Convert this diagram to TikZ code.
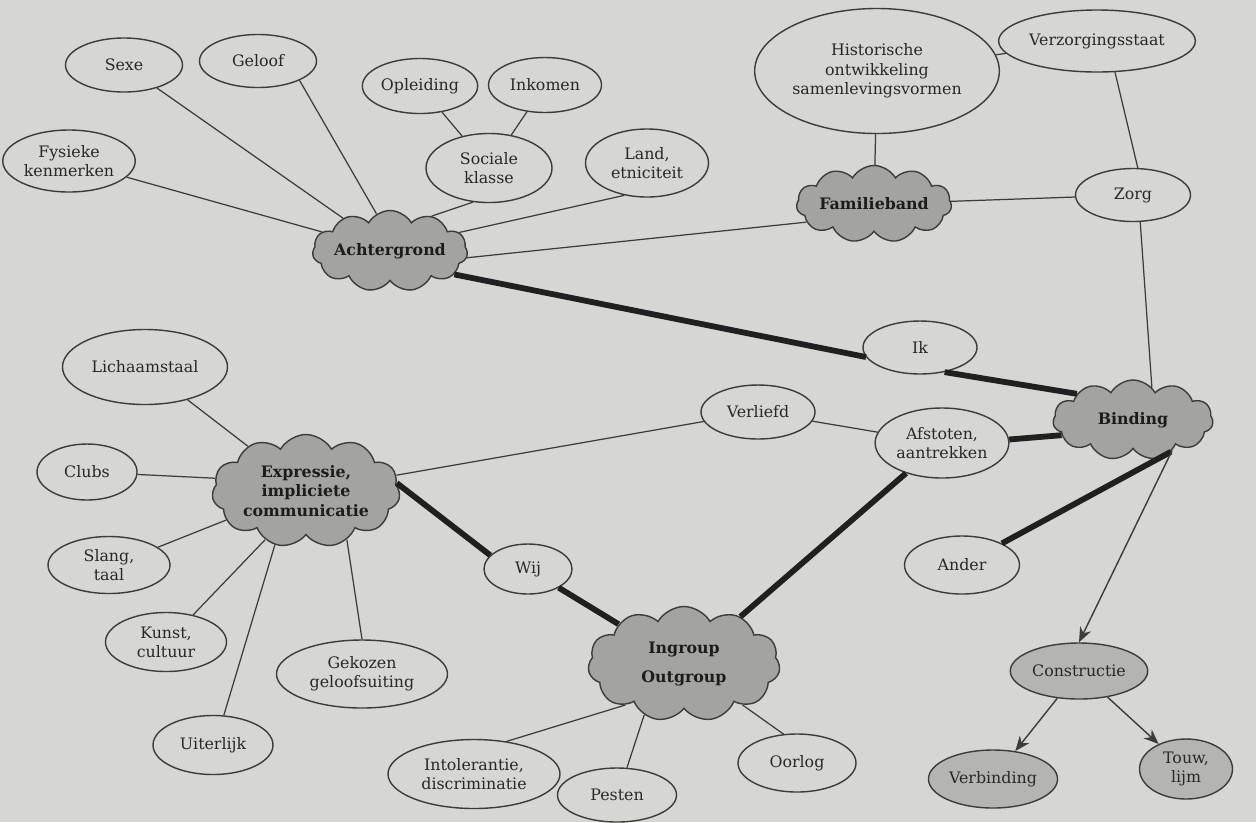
\documentclass[tikz,border=0pt]{standalone}
\usepackage{fontspec}
\setmainfont{DejaVu Serif}
\usetikzlibrary{arrows.meta,shapes.geometric,shapes.symbols}
\definecolor{paper}{RGB}{214,214,211}
\definecolor{puffgray}{RGB}{163,163,161}
\definecolor{ovalgray}{RGB}{180,180,177}
\definecolor{pencil}{RGB}{60,60,60}
\definecolor{print}{RGB}{40,40,40}
\tikzset{
  >={Stealth[length=3mm,width=2.4mm]},
  oval/.style={ellipse,draw=pencil,line width=0.8pt,fill=#1,inner sep=1pt,
    align=center,font=\small,text=print},
  oval/.default=paper,
  blob/.style={cloud,cloud puffs=11,cloud puff arc=120,cloud ignores aspect,inner sep=0pt,
    draw=pencil,line width=0.8pt,fill=puffgray,align=center,font=\small\bfseries,text=print!70!black},
  sz/.style 2 args={minimum width=#1cm,minimum height=#2cm},
  link/.style={draw=pencil,line width=0.7pt},
  bond/.style={draw=print!80!black,line width=3.3pt},
  pointer/.style={->,draw=pencil,line width=0.8pt},
}

\begin{document}
\begin{tikzpicture}
  \useasboundingbox (0,0) rectangle (25.12,-16.44);
  \fill[paper] (0,0) rectangle (25.12,-16.44);

  % background cluster
  \node[oval,sz={2.34}{1.08}] (sexe) at (2.48,-1.3) {Sexe};
  \node[oval,sz={2.34}{1.06}] (geloof) at (5.16,-1.22) {Geloof};
  \node[oval,sz={2.44}{1.24}] (fysiek) at (1.38,-3.22) {Fysieke\\kenmerken};
  \node[oval,sz={2.28}{1.1}] (opleiding) at (8.4,-1.72) {Opleiding};
  \node[oval,sz={2.26}{1.1}] (inkomen) at (10.9,-1.7) {Inkomen};
  \node[oval,sz={2.52}{1.38}] (sociaal) at (9.78,-3.36) {Sociale\\klasse};
  \node[oval,sz={2.46}{1.36}] (land) at (12.94,-3.26) {Land,\\etniciteit};
  \node[blob,sz={3.1}{1.62}] (achter) at (7.8,-5.02) {Achtergrond};

  % family
  \node[oval,sz={3.7}{2.5}] (historie) at (17.54,-1.42) {Historische\\ontwikkeling\\samenlevingsvormen};
  \node[oval,sz={3.22}{1.24}] (verzorg) at (21.94,-0.82) {Verzorgingsstaat};
  \node[blob,sz={3.1}{1.54}] (familie) at (17.48,-4.08) {Familieband};
  \node[oval,sz={2.3}{1.06}] (zorg) at (22.66,-3.9) {Zorg};

  % binding
  \node[oval,sz={2.28}{1.06}] (ik) at (18.4,-6.95) {Ik};
  \node[blob,sz={3.2}{1.6}] (binding) at (22.66,-8.4) {Binding};
  \node[oval,sz={2.28}{1.08}] (verliefd) at (15.16,-8.24) {Verliefd};
  \node[oval,sz={2.6}{1.4}] (afstoten) at (18.84,-8.86) {Afstoten,\\aantrekken};
  \node[oval,sz={2.3}{1.16}] (ander) at (19.24,-11.3) {Ander};
  \node[oval=ovalgray,sz={2.4}{1.12}] (constructie) at (21.58,-13.42) {Constructie};
  \node[oval=ovalgray,sz={2.4}{1.16}] (verbinding) at (19.86,-15.58) {Verbinding};
  \node[oval=ovalgray,sz={1.86}{1.2}] (touw) at (23.72,-15.38) {Touw,\\lijm};

  % expression
  \node[oval,sz={3.3}{1.5}] (lichaam) at (2.9,-7.34) {Lichaamstaal};
  \node[oval,sz={2.0}{1.12}] (clubs) at (1.74,-9.44) {Clubs};
  \node[blob,sz={3.76}{2.26}] (expressie) at (6.12,-9.82) {Expressie,\\impliciete\\communicatie};
  \node[oval,sz={2.44}{1.14}] (slang) at (2.18,-11.3) {Slang,\\taal};
  \node[oval,sz={2.42}{1.18}] (kunst) at (3.32,-12.84) {Kunst,\\cultuur};
  \node[oval,sz={2.4}{1.18}] (uiterlijk) at (4.26,-14.9) {Uiterlijk};
  \node[oval,sz={3.42}{1.36}] (gekozen) at (7.24,-13.48) {Gekozen\\geloofsuiting};

  % groups
  \node[oval,sz={1.76}{1.0}] (wij) at (10.56,-11.38) {Wij};
  \node[blob,sz={3.84}{2.3}] (ingroup) at (13.68,-13.28) {Ingroup\\[5pt]Outgroup};
  \node[oval,sz={3.44}{1.38}] (intolerant) at (9.48,-15.48) {Intolerantie,\\discriminatie};
  \node[oval,sz={2.38}{1.08}] (pesten) at (12.34,-15.9) {Pesten};
  \node[oval,sz={2.36}{1.16}] (oorlog) at (15.94,-15.26) {Oorlog};

  % thin links
  \foreach \a/\b in {sexe/achter, geloof.-25/achter.110, fysiek/achter,
      opleiding/sociaal, inkomen/sociaal, sociaal.-115/achter.40, land.-125/achter.15,
      achter.-5/familie.195, historie/familie, historie/verzorg, verzorg.-60/zorg.80,
      familie/zorg, zorg.-75/binding.60, lichaam/expressie, clubs/expressie.172,
      slang.20/expressie.-160, kunst.45/expressie.-130, uiterlijk.70/expressie.-120,
      gekozen.north/expressie.-50, expressie/verliefd, verliefd/afstoten,
      ingroup.-145/intolerant.45, ingroup.-128/pesten.70, ingroup.-35/oorlog.115}
    \draw[link] (\a) -- (\b);

  % thick bonds
  \foreach \a/\b in {achter.-20/ik.190, ik.-45/binding.155, afstoten.3/binding.192,
      binding.-40/ander, expressie.5/wij.160, wij/ingroup, ingroup.40/afstoten.-140}
    \draw[bond] (\a) -- (\b);

  % arrows
  \draw[pointer] (binding.-38) -- (constructie.north);
  \draw[pointer] (constructie) -- (verbinding);
  \draw[pointer] (constructie) -- (touw);
\end{tikzpicture}
\end{document}
